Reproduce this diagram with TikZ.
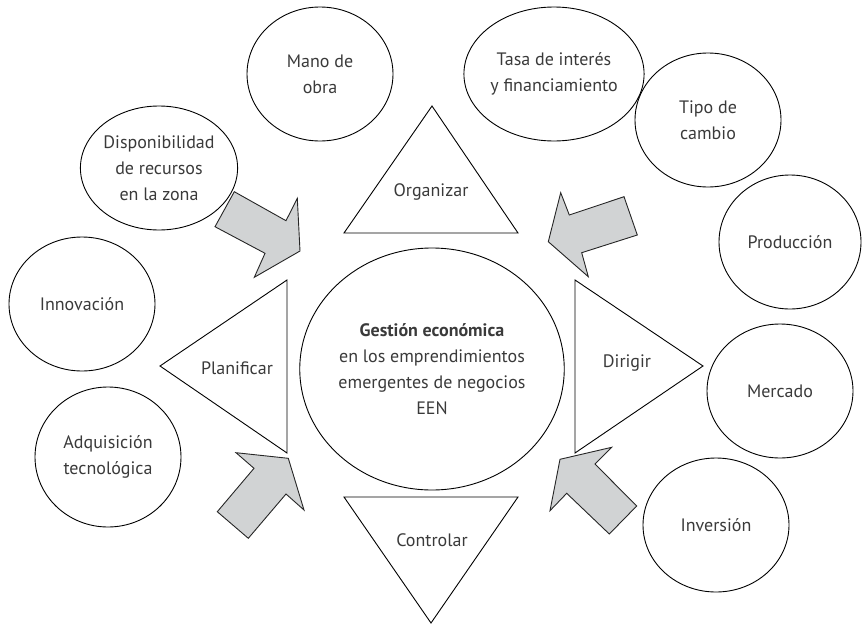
\documentclass[tikz,border=0pt]{standalone}
\usepackage{fontspec}
\setmainfont{PT Sans}
\usepackage{xcolor}
\usepackage{tikz}
\usetikzlibrary{positioning, shapes}

\definecolor{textgray}{HTML}{3A3A3A}
\definecolor{arrowgray}{HTML}{D1D3D4}

\begin{document}
\begin{tikzpicture}[
    x=1pt, y=-1pt,
    factor/.style={ellipse, draw=black, line width=0.9pt, minimum width=146pt, minimum height=134pt, inner sep=0pt, align=center, text=textgray, font=\fontsize{18}{26}\selectfont},
    funcion/.style={draw=black, line width=0.9pt, line join=miter},
    rotulo/.style={text=textgray, font=\fontsize{18}{26}\selectfont},
    bloque/.style={draw=black!85, fill=arrowgray, line width=0.9pt, line join=miter}
]
    \useasboundingbox (0,0) rectangle (862,624);

    % Centro
    \node[factor, minimum width=264pt, minimum height=242pt] (gestion) at (432,369) {\textbf{Gestión económica}\\en los emprendimientos\\emergentes de negocios\\EEN};

    % Factores
    \node[factor] (mano) at (320,74) {Mano de\\obra};
    \node[factor] (tasa) at (554,74) {Tasa de interés\\y financiamiento};
    \node[factor] (tipo) at (708,120) {Tipo de\\cambio};
    \node[factor, minimum height=124pt] (recursos) at (159,168) {Disponibilidad\\de recursos\\en la zona};
    \node[factor, minimum width=142pt] (produccion) at (790,242) {Producción};
    \node[factor] (innovacion) at (82,304) {Innovación};
    \node[factor] (mercado) at (780,391) {Mercado};
    \node[factor, minimum height=140pt] (adquisicion) at (108,457) {Adquisición\\tecnológica};
    \node[factor] (inversion) at (716,525) {Inversión};

    % Funciones
    \draw[funcion] (432,106) -- (518,233) -- (344,233) -- cycle;
    \draw[funcion] (160,366) -- (287,280) -- (287,453) -- cycle;
    \draw[funcion] (703,366) -- (575,280) -- (575,453) -- cycle;
    \draw[funcion] (344,497) -- (518,497) -- (431,623) -- cycle;
    \node[rotulo] (organizar) at (431,192) {Organizar};
    \node[rotulo] (planificar) at (237,368) {Planificar};
    \node[rotulo] (dirigir) at (627,363) {Dirigir};
    \node[rotulo] (controlar) at (432,540) {Controlar};

    % Flechas
    \draw[bloque] (234.3,191.7) -- (286,220.7) -- (297.3,198.3) -- (300,251) -- (254.3,277.3) -- (265,253.3) -- (215,226.7) -- cycle;
    \draw[bloque] (560.7,192.7) -- (569.3,215) -- (624,196.7) -- (637.3,235) -- (581.7,252.7) -- (588.3,276.7) -- (548.3,241.7) -- cycle;
    \draw[bloque] (236,452.7) -- (288.3,458.3) -- (304,510) -- (286,494) -- (248.3,538.3) -- (217.3,511.7) -- (254,468.3) -- cycle;
    \draw[bloque] (560,459.3) -- (611.7,447.3) -- (595,464) -- (636.7,506) -- (609.3,534) -- (566.7,493.3) -- (550,510.7) -- cycle;

\end{tikzpicture}
\end{document}
